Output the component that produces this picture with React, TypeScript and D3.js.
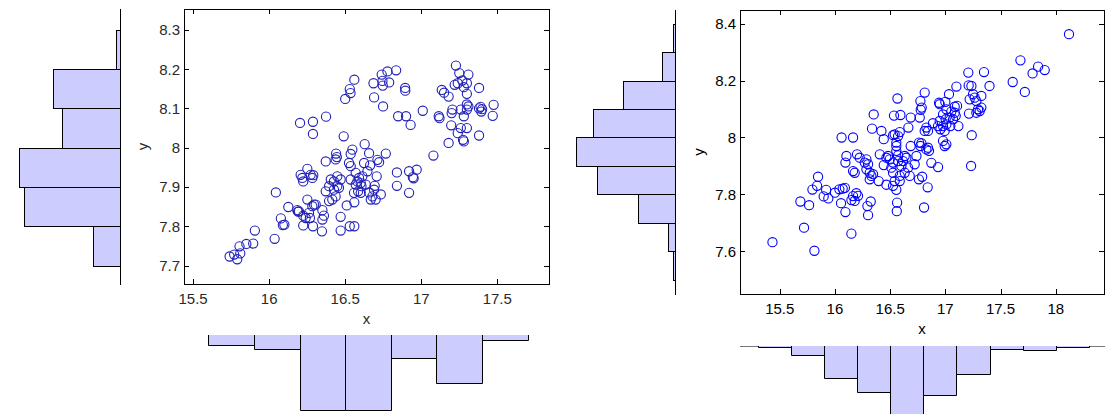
import React from 'react';
import * as d3 from 'd3';

// scatter data
const leftPoints: [number, number][] = [
  [15.74, 7.723], [15.77, 7.728], [15.79, 7.716], [15.805, 7.749], [15.81, 7.731], [15.85, 7.755], [15.895, 7.756], [15.906, 7.789],
  [16.036, 7.768], [16.044, 7.886], [16.077, 7.82], [16.09, 7.803], [16.1, 7.804], [16.126, 7.849], [16.185, 7.841], [16.19, 7.837],
  [16.203, 8.063], [16.288, 8.066], [16.288, 8.035], [16.374, 8.079],
  [16.224, 7.802], [16.288, 7.8], [16.347, 7.787],
  [16.207, 7.931], [16.218, 7.923], [16.251, 7.946], [16.273, 7.931], [16.284, 7.923], [16.224, 7.914], [16.29, 7.93],
  [16.196, 7.838], [16.224, 7.827], [16.251, 7.868], [16.262, 7.834], [16.284, 7.851], [16.295, 7.855], [16.24, 7.821], [16.268, 7.821],
  [16.306, 7.855], [16.35, 7.841], [16.35, 7.817], [16.36, 7.827],
  [16.372, 7.965],
  [16.394, 7.864], [16.372, 7.889], [16.394, 7.902], [16.426, 7.914], [16.426, 7.893], [16.448, 7.902], [16.437, 7.876], [16.405, 7.919],
  [16.448, 7.927], [16.459, 7.898], [16.47, 7.919], [16.415, 7.868],
  [16.44, 7.985], [16.445, 7.976], [16.437, 7.97],
  [16.49, 8.029],
  [16.47, 7.824], [16.47, 7.789], [16.51, 7.853], [16.53, 7.8], [16.56, 7.8],
  [16.536, 7.984], [16.525, 7.961], [16.547, 7.995],
  [16.5, 8.124], [16.535, 8.139], [16.53, 8.149], [16.56, 8.173],
  [16.56, 7.861],
  [16.536, 7.919], [16.569, 7.936], [16.569, 7.906], [16.58, 7.914], [16.585, 7.889], [16.591, 7.923], [16.602, 7.91], [16.607, 7.902],
  [16.613, 7.927], [16.558, 7.885], [16.624, 7.961], [16.646, 7.94], [16.657, 7.986], [16.628, 8.009], [16.664, 7.955], [16.635, 7.906],
  [16.657, 7.886], [16.679, 7.876], [16.69, 7.893], [16.694, 7.903], [16.707, 7.927], [16.712, 7.969], [16.723, 7.963], [16.734, 7.881],
  [16.668, 7.868], [16.7, 7.868], [16.767, 7.985], [16.602, 7.885], [16.536, 7.953],
  [16.686, 8.164], [16.74, 8.186], [16.745, 8.17], [16.778, 8.194], [16.835, 8.197], [16.789, 8.166], [16.747, 8.158], [16.69, 8.128], [16.749, 8.105],
  [16.848, 8.08], [16.9, 8.08], [16.93, 8.058], [16.894, 8.152], [16.895, 8.145],
  [16.84, 7.937], [16.84, 7.903], [16.92, 7.885], [16.92, 7.94], [16.945, 7.925], [16.95, 7.922], [16.97, 7.944],
  [17.01, 8.094], [17.08, 7.98], [17.115, 8.08], [17.12, 8.075], [17.135, 8.147], [17.15, 8.14], [17.18, 8.13], [17.18, 8.012],
  [17.2, 8.088], [17.205, 8.097], [17.197, 8.057], [17.228, 8.209], [17.24, 8.164], [17.22, 8.16], [17.25, 8.19], [17.27, 8.171],
  [17.28, 8.154], [17.24, 8.037], [17.26, 8.05], [17.28, 8.016], [17.275, 8.02], [17.3, 8.05], [17.28, 8.08], [17.3, 8.097],
  [17.3, 8.11], [17.31, 8.105], [17.31, 8.186], [17.3, 8.164], [17.3, 8.137], [17.26, 8.097], [17.38, 8.152], [17.38, 8.031],
  [17.38, 8.1], [17.39, 8.104], [17.4, 8.098], [17.395, 8.092], [17.476, 8.109], [17.47, 8.081],
];

const rightPoints: [number, number][] = [
  [15.434, 7.632], [15.687, 7.775], [15.72, 7.683], [15.766, 7.762], [15.814, 7.602], [15.796, 7.817], [15.847, 7.862], [15.838, 7.83],
  [15.898, 7.793], [15.92, 7.816], [15.94, 7.786], [16.0, 7.806], [16.04, 7.818], [16.07, 7.82], [16.09, 7.823], [16.055, 7.769],
  [16.095, 7.738], [16.06, 8.0], [16.164, 8.0], [16.149, 7.662], [16.104, 7.935], [16.095, 7.912],
  [16.149, 7.78], [16.164, 7.794], [16.179, 7.777], [16.194, 7.804], [16.209, 7.795], [16.164, 7.882], [16.179, 7.876],
  [16.2, 7.941], [16.224, 7.929], [16.27, 7.912], [16.285, 7.923], [16.3, 7.906], [16.285, 7.888], [16.315, 7.876], [16.33, 7.865],
  [16.315, 7.853], [16.345, 7.871],
  [16.294, 7.759], [16.324, 7.775], [16.3, 7.727],
  [16.336, 8.031], [16.351, 8.081],
  [16.396, 7.847], [16.406, 7.941], [16.421, 8.023], [16.442, 7.994],
  [16.481, 7.935], [16.496, 7.923], [16.466, 7.929], [16.442, 7.903],
  [16.466, 7.834], [16.526, 7.83], [16.556, 7.816], [16.541, 7.847], [16.526, 7.876], [16.511, 7.894], [16.526, 7.912], [16.572, 7.937],
  [16.556, 7.953], [16.556, 7.982], [16.572, 8.005], [16.587, 8.019], [16.541, 8.011], [16.556, 7.97], [16.572, 7.917], [16.602, 7.9],
  [16.617, 7.917], [16.632, 7.935], [16.647, 7.929], [16.632, 7.876], [16.587, 7.865], [16.662, 7.894], [16.677, 7.865], [16.587, 7.847],
  [16.527, 8.008],
  [16.535, 8.077], [16.566, 8.137], [16.593, 8.079], [16.563, 7.771], [16.56, 7.741],
  [16.665, 8.035], [16.686, 8.07], [16.686, 7.97], [16.722, 7.906], [16.738, 7.935],
  [16.768, 8.07], [16.777, 8.097], [16.774, 8.128], [16.786, 8.105], [16.813, 8.158],
  [16.762, 7.982], [16.774, 7.97], [16.783, 7.98], [16.828, 7.958], [16.843, 7.964], [16.852, 7.953], [16.813, 8.023], [16.828, 8.035],
  [16.843, 8.023],
  [16.76, 7.853], [16.79, 7.862], [16.84, 7.825], [16.807, 7.754], [16.873, 7.911], [16.934, 7.896],
  [16.888, 8.05], [16.934, 8.04], [16.949, 8.058], [16.955, 8.029], [16.979, 8.04], [16.943, 8.122], [16.949, 8.117], [16.979, 8.081],
  [17.003, 8.064], [17.009, 8.046], [16.994, 8.023], [16.994, 7.97], [17.009, 7.976], [16.979, 7.988], [17.039, 8.07], [17.045, 8.04],
  [17.07, 8.064], [17.085, 8.087], [17.085, 8.108], [17.106, 8.111], [17.033, 8.152], [17.0, 8.125], [17.009, 8.099], [17.054, 8.091],
  [17.094, 8.076],
  [17.1, 8.179], [17.118, 8.04],
  [17.208, 8.228], [17.211, 8.183], [17.22, 8.134], [17.214, 8.084], [17.236, 8.181], [17.251, 8.152], [17.266, 8.14], [17.281, 8.128],
  [17.281, 8.087], [17.296, 8.099], [17.311, 8.093], [17.326, 8.105], [17.326, 8.146],
  [17.35, 8.23], [17.4, 8.181], [17.239, 8.008], [17.233, 7.9],
  [17.61, 8.195], [17.68, 8.271], [17.72, 8.16], [17.79, 8.225], [17.84, 8.249], [17.9, 8.237], [18.12, 8.363],
];

// histogram bins and counts
const leftYEdges = [7.7, 7.8, 7.9, 8.0, 8.1, 8.2, 8.3];
const leftYCounts = [15, 54, 57, 33, 38, 2];
const leftXEdges = [15.6, 15.9, 16.2, 16.5, 16.8, 17.1, 17.4, 17.7];
const leftXCounts = [8, 11, 60, 60, 18, 38, 4];

const rightYEdges = [7.5, 7.6, 7.7, 7.8, 7.9, 8.0, 8.1, 8.2, 8.3, 8.4];
const rightYCounts = [1, 4, 20, 42, 53, 44, 28, 7, 1];
const rightXEdges = [15.3, 15.6, 15.9, 16.2, 16.5, 16.8, 17.1, 17.4, 17.7, 18.0, 18.3];
const rightXCounts = [1, 8, 29, 41, 68, 44, 25, 3, 4, 1];

// tick labels
const leftXTicks = [15.5, 16, 16.5, 17, 17.5];
const leftYTicks = [7.7, 7.8, 7.9, 8, 8.1, 8.2, 8.3];
const rightXTicks = [15.5, 16, 16.5, 17, 17.5, 18];
const rightYTicks = [7.6, 7.8, 8, 8.2, 8.4];

const FONT = "'Liberation Sans', Arial, Helvetica, sans-serif";
const HIST_FILL = '#ccccff';

const Panel = ({ box, xDomain, yDomain, xTicks, yTicks, points, dotColor, textColor,
  yEdges, yCounts, yHistAxis, yHistMax, xEdges, xCounts, xHistBase, xHistMax, xHistLine }) => {
  const xScale = d3.scaleLinear().domain(xDomain).range([box.left, box.right]);
  const yScale = d3.scaleLinear().domain(yDomain).range([box.bottom, box.top]);

  // side histogram (bars grow to the left of its axis)
  const yCountScale = d3.scaleLinear().domain([0, d3.max(yCounts)]).range([yHistAxis, yHistAxis - yHistMax]);
  // bottom histogram (bars hang down from baseline)
  const xCountScale = d3.scaleLinear().domain([0, d3.max(xCounts)]).range([xHistBase, xHistBase + xHistMax]);

  const tl = 5;

  return (
    <g>
      {/* left histogram */}
      {yCounts.map((c, i) => {
        const y1 = yScale(yEdges[i + 1]);
        const y0 = yScale(yEdges[i]);
        const xl = yCountScale(c);
        return (
          <rect key={'yh' + i} x={Math.round(xl) + 0.5} y={Math.round(y1) + 0.5}
            width={Math.max(0, Math.round(yHistAxis - xl))} height={Math.round(y0) - Math.round(y1)}
            fill={HIST_FILL} stroke="#000" strokeWidth={1} />
        );
      })}
      <line x1={yHistAxis + 0.5} x2={yHistAxis + 0.5} y1={box.top} y2={box.bottom + 1} stroke="#000" />

      {/* bottom histogram */}
      {xHistLine && (
        <line x1={box.left} x2={1105} y1={xHistBase + 0.5} y2={xHistBase + 0.5} stroke="#777" />
      )}
      {xCounts.map((c, i) => {
        const x0 = Math.round(xScale(xEdges[i])) + 0.5;
        const x1 = Math.round(xScale(xEdges[i + 1])) + 0.5;
        const yb = Math.round(xCountScale(c)) + 0.5;
        const base = xHistBase;
        return (
          <path key={'xh' + i} d={`M${x0},${base}L${x0},${yb}L${x1},${yb}L${x1},${base}`}
            fill={HIST_FILL} stroke="#000" strokeWidth={1} />
        );
      })}

      {/* scatter frame */}
      <rect x={box.left + 0.5} y={box.top + 0.5} width={box.right - box.left} height={box.bottom - box.top}
        fill="#fff" stroke="none" />
      {xTicks.map(t => (
        <g key={'xt' + t}>
          <line x1={Math.round(xScale(t)) + 0.5} x2={Math.round(xScale(t)) + 0.5} y1={box.bottom} y2={box.bottom - tl} stroke="#000" />
          <line x1={Math.round(xScale(t)) + 0.5} x2={Math.round(xScale(t)) + 0.5} y1={box.top} y2={box.top + tl} stroke="#000" />
          <text x={xScale(t)} y={box.bottom + 19.5} textAnchor="middle" fontSize={15} fontFamily={FONT} fill={textColor}>{String(t)}</text>
        </g>
      ))}
      {yTicks.map(t => (
        <g key={'yt' + t}>
          <line x1={box.left} x2={box.left + tl} y1={Math.round(yScale(t)) + 0.5} y2={Math.round(yScale(t)) + 0.5} stroke="#000" />
          <line x1={box.right} x2={box.right - tl} y1={Math.round(yScale(t)) + 0.5} y2={Math.round(yScale(t)) + 0.5} stroke="#000" />
          <text x={box.left - 4} y={yScale(t)} dy="0.36em" textAnchor="end" fontSize={15} fontFamily={FONT} fill={textColor}>{String(t)}</text>
        </g>
      ))}
      {points.map((p, i) => (
        <circle key={'p' + i} cx={xScale(p[0])} cy={yScale(p[1])} r={4.6} fill="none" stroke={dotColor} strokeWidth={1.1} />
      ))}
      <rect x={box.left + 0.5} y={box.top + 0.5} width={box.right - box.left} height={box.bottom - box.top}
        fill="none" stroke="#000" strokeWidth={1} />
      <text x={(box.left + box.right) / 2} y={box.bottom + 40} textAnchor="middle" fontSize={15} fontFamily={FONT} fill={textColor}>x</text>
      <text transform={`translate(${box.left - 36},${(box.top + box.bottom) / 2}) rotate(-90)`} textAnchor="middle"
        fontSize={15} fontFamily={FONT} fill={textColor}>y</text>
    </g>
  );
};

const App = () => {
  return (
    <svg width={1105} height={414} style={{ position: 'absolute', left: 0, top: 0, background: '#fff' }}>
      <rect x={0} y={0} width={1105} height={414} fill="#fff" />
      <Panel
        box={{ left: 184, right: 549, top: 9, bottom: 284 }}
        xDomain={[15.44, 17.84]} yDomain={[7.653, 8.353]}
        xTicks={leftXTicks} yTicks={leftYTicks}
        points={leftPoints} dotColor="#1f1fb8" textColor="#2a2a2a"
        yEdges={leftYEdges} yCounts={leftYCounts} yHistAxis={120} yHistMax={101}
        xEdges={leftXEdges} xCounts={leftXCounts} xHistBase={335} xHistMax={75} xHistLine={false}
      />
      <Panel
        box={{ left: 740, right: 1104, top: 10, bottom: 294 }}
        xDomain={[15.14, 18.437]} yDomain={[7.45, 8.448]}
        xTicks={rightXTicks} yTicks={rightYTicks}
        points={rightPoints} dotColor="#0000ff" textColor="#000"
        yEdges={rightYEdges} yCounts={rightYCounts} yHistAxis={675} yHistMax={99}
        xEdges={rightXEdges} xCounts={rightXCounts} xHistBase={346} xHistMax={76} xHistLine={true}
      />
    </svg>
  );
};

export default App;
